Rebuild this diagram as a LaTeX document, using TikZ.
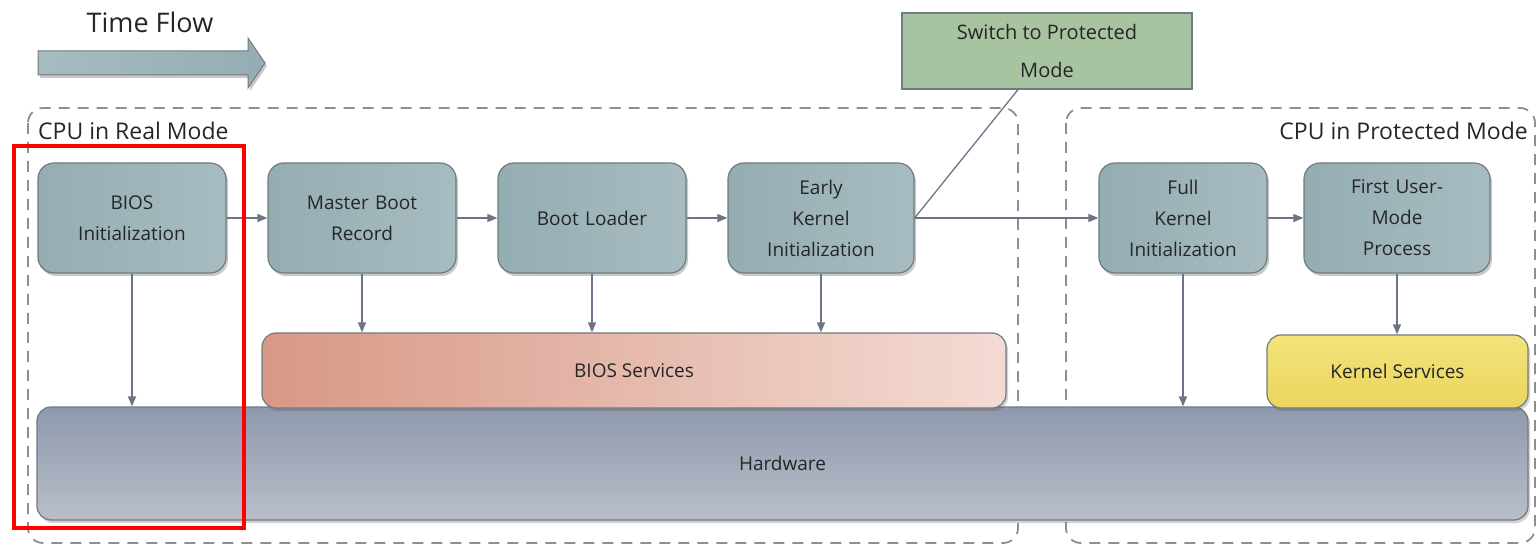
\documentclass[tikz,border=0pt]{standalone}
\usepackage{fontspec}
\setmainfont{Open Sans}
\usetikzlibrary{arrows.meta,shadows,calc}

\definecolor{txt}{HTML}{262626}
\definecolor{stepfill}{HTML}{94ADB3}
\definecolor{stepfillB}{HTML}{A7BCC0}
\definecolor{stepedge}{HTML}{6F7B80}
\definecolor{conn}{HTML}{6E7488}
\definecolor{frame}{HTML}{8E8E8E}
\definecolor{switchfill}{HTML}{A8C3A0}
\definecolor{hwtop}{HTML}{8F99AD}
\definecolor{hwbot}{HTML}{B9BEC9}
\definecolor{biosL}{HTML}{D89886}
\definecolor{biosR}{HTML}{F3DBD3}
\definecolor{ksvcT}{HTML}{F3E37A}
\definecolor{ksvcB}{HTML}{EAD55E}

\tikzset{
  stepbox/.style={draw=stepedge, line width=1.2pt, rounded corners=16pt,
    left color=stepfill, right color=stepfillB,
    minimum height=110pt, text width=170pt, align=center,
    font=\fontsize{19}{31}\selectfont, text=txt,
    drop shadow={shadow xshift=2pt, shadow yshift=-3pt, opacity=0.3, fill=black!70}},
  svcbox/.style={draw=stepedge, line width=1.2pt, rounded corners=14pt,
    font=\fontsize{19}{31}\selectfont, text=txt,
    drop shadow={shadow xshift=2pt, shadow yshift=-3pt, opacity=0.25, fill=black!70}},
  modeframe/.style={draw=frame, line width=1.8pt, dash pattern=on 11pt off 8pt, rounded corners=15pt},
  flow/.style={draw=conn, line width=1.5pt, -{Triangle[length=10pt,width=8pt]}},
  plainline/.style={draw=conn, line width=1.3pt},
  framelabel/.style={font=\fontsize{23}{26}\selectfont, text=txt, inner sep=0pt}
}

\begin{document}
\begin{tikzpicture}[x=1pt, y=-1pt]
  \useasboundingbox (0,0) rectangle (1540,545);

  % time arrow
  \node[font=\fontsize{27}{30}\selectfont, text=txt] (timelbl) at (150,22) {Time Flow};
  \draw[draw=stepedge, line width=1pt, left color=stepfillB, right color=stepfill,
        drop shadow={shadow xshift=2pt, shadow yshift=-3pt, opacity=0.3, fill=black!70}]
    (38,51) -- (248,51) -- (248,38) -- (265,63) -- (248,88) -- (248,75) -- (38,75) -- cycle;

  % mode frames
  \draw[modeframe] (28,108) rectangle (1018,543);
  \draw[modeframe] (1066,108) rectangle (1535,543);
  \node[framelabel, anchor=west] (reallbl) at (38,131) {CPU in Real Mode};
  \node[framelabel, anchor=east] (protlbl) at (1528,131) {CPU in Protected Mode};

  % switch note
  \node[draw=stepedge, line width=1.2pt, fill=switchfill, minimum width=290pt, minimum height=76pt,
        align=center, font=\fontsize{20}{38}\selectfont, text=txt] (switch) at (1047,51)
        {Switch to Protected\\Mode};

  % hardware layer
  \node[svcbox, minimum width=1491pt, minimum height=113pt, top color=hwtop, bottom color=hwbot]
    (hw) at (782.5,463.5) {};
  \node[font=\fontsize{19}{24}\selectfont, text=txt] (hwlbl) at (hw) {Hardware};

  % services
  \node[svcbox, minimum width=744pt, minimum height=75pt, left color=biosL, right color=biosR]
    (bios) at (634,370.5) {BIOS Services};
  \node[svcbox, minimum width=261pt, minimum height=73pt, top color=ksvcT, bottom color=ksvcB]
    (ksvc) at (1397.5,371.5) {Kernel Services};

  % boot stages
  \node[stepbox, minimum width=188pt] (s1) at (132,218) {BIOS\\Initialization};
  \node[stepbox, minimum width=188pt] (s2) at (362,218) {Master Boot\\Record};
  \node[stepbox, minimum width=188pt] (s3) at (592,218) {Boot Loader};
  \node[stepbox, minimum width=186pt] (s4) at (821,218) {Early\\Kernel\\Initialization};
  \node[stepbox, minimum width=168pt, text width=160pt] (s5) at (1183,218) {Full\\Kernel\\Initialization};
  \node[stepbox, minimum width=186pt] (s6) at (1397,218) {First User-\\Mode\\Process};

  % sequence
  \draw[flow] (s1) -- (s2);
  \draw[flow] (s2) -- (s3);
  \draw[flow] (s3) -- (s4);
  \draw[flow] (s4) -- (s5);
  \draw[flow] (s5) -- (s6);
  \coordinate (swfoot) at ($(switch.south)+(-29,0)$);
  \draw[plainline] (s4.east) -- (swfoot);

  % calls into services / hardware
  \draw[flow] (s1.south) -- (s1.south |- hw.north);
  \draw[flow] (s2.south) -- (s2.south |- bios.north);
  \draw[flow] (s3.south) -- (s3.south |- bios.north);
  \draw[flow] (s4.south) -- (s4.south |- bios.north);
  \draw[flow] (s5.south) -- (s5.south |- hw.north);
  \draw[flow] (s6.south) -- (s6.south |- ksvc.north);

  % highlight
  \draw[red, line width=4pt] (14,146) rectangle (244,528);
\end{tikzpicture}
\end{document}
